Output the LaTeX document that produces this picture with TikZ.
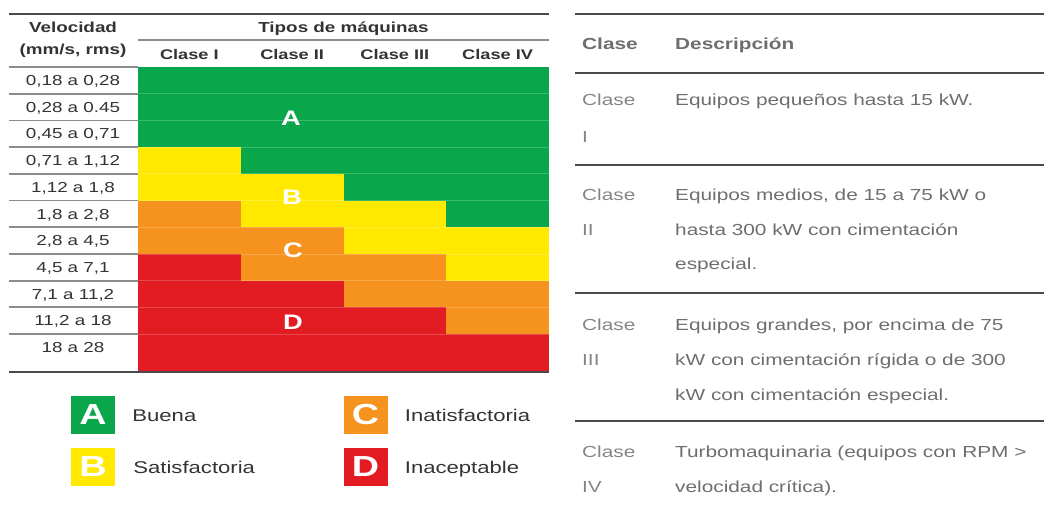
\documentclass[tikz,border=0pt]{standalone}
\usepackage{fontspec}
\setmainfont{Liberation Sans}
\newfontfamily\tabfont[FakeStretch=1.3]{Liberation Sans}
\usepackage{xcolor}
\usetikzlibrary{positioning}

\definecolor{zoneA}{HTML}{0AA64B}
\definecolor{zoneB}{HTML}{FFE900}
\definecolor{zoneC}{HTML}{F6921E}
\definecolor{zoneD}{HTML}{E31B23}
\definecolor{trait}{HTML}{4A4A4A}
\definecolor{gris}{HTML}{8C8C8C}
\definecolor{texte}{HTML}{333333}
\definecolor{gclase}{HTML}{858585}
\definecolor{gdesc}{HTML}{6E6E6E}

\begin{document}
\begin{tikzpicture}[x=1pt, y=-1pt,
    cellule/.style={inner sep=0pt, text=texte, text height=10.4pt, text depth=0pt,
      font=\tabfont\fontsize{14.5}{16}\selectfont},
    entete/.style={cellule, font=\tabfont\bfseries\fontsize{14.5}{16}\selectfont},
    lettre/.style={inner sep=0pt, text=white, text height=15pt, text depth=0pt,
      font=\tabfont\bfseries\fontsize{21}{24}\selectfont},
    caja/.style={fill=#1, minimum width=44pt, minimum height=38pt, inner sep=0pt,
      text=white, font=\tabfont\bfseries\fontsize{29}{30}\selectfont},
    leyenda/.style={inner sep=0pt, text=texte, text height=12.2pt, text depth=0pt,
      font=\tabfont\fontsize{17}{19}\selectfont},
    clase/.style={inner sep=0pt, anchor=base west, text=gclase,
      font=\tabfont\fontsize{16}{18}\selectfont},
    descr/.style={clase, text=gdesc},
    regle/.style={draw=trait, line width=2pt}]

    \useasboundingbox (0,0) rectangle (1044,509);

    % Tableau des zones
    \foreach \r/\ca/\cb/\cc/\cd in {1/A/A/A/A, 2/A/A/A/A, 3/A/A/A/A, 4/B/A/A/A, 5/B/B/A/A,
        6/C/B/B/A, 7/C/C/B/B, 8/D/C/C/B, 9/D/D/C/C, 10/D/D/D/C}
      \foreach \c/\z in {1/\ca, 2/\cb, 3/\cc, 4/\cd}
        \fill[fill=zone\z] ({138+102.75*(\c-1)}, {67+26.7*(\r-1)}) rectangle ++(102.75, 26.7);
    \fill[zoneD] (138,334) rectangle (549,372);
    \foreach \r in {1,...,10}
      \draw[white, opacity=.2, line width=.8pt] (138,{67+26.7*\r}) -- (549,{67+26.7*\r});

    % Filets
    \draw[trait, line width=2.5pt] (9,14) -- (549,14);
    \draw[gris, line width=1.5pt] (138,40) -- (549,40);
    \draw[gris, line width=1.8pt] (9,67) -- (138,67);
    \foreach \r in {1,...,10}
      \draw[gris, line width=1.8pt] (9,{67+26.7*\r}) -- (138,{67+26.7*\r});
    \draw[trait, line width=2.5pt] (9,372) -- (549,372);

    % En-tetes
    \node[entete] (vel) at (73,27.5) {Velocidad};
    \node[entete] (unid) at (73,49) {(mm/s, rms)};
    \node[entete] (tipos) at (343.5,27.5) {Tipos de máquinas};
    \foreach \t [count=\c] in {Clase I, Clase II, Clase III, Clase IV}
      \node[entete, font=\tabfont\bfseries\fontsize{14}{16}\selectfont] (c\c) at ({138+102.75*(\c-.5)},54) {\t};

    % Vitesses
    \foreach \t [count=\r] in {{0,18 a 0,28}, {0,28 a 0.45}, {0,45 a 0,71}, {0,71 a 1,12},
        {1,12 a 1,8}, {1,8 a 2,8}, {2,8 a 4,5}, {4,5 a 7,1}, {7,1 a 11,2}, {11,2 a 18}}
      \node[cellule] (v\r) at (73,{67+26.7*(\r-.5)}) {\t};
    \node[cellule] (v11) at (73,347) {18 a 28};

    % Lettres des zones
    \node[lettre] (zA) at (291,118) {A};
    \node[lettre] (zB) at (292,197) {B};
    \node[lettre] (zC) at (293,250) {C};
    \node[lettre] (zD) at (293,322) {D};

    % Legende
    \node[caja=zoneA] (lA) at (93,415) {A};
    \node[caja=zoneB] (lB) at (93,467) {B};
    \node[caja=zoneC] (lC) at (365.5,415) {C};
    \node[caja=zoneD] (lD) at (365.5,467) {D};
    \node[leyenda, right=17pt of lA] (tA) {Buena};
    \node[leyenda, right=18pt of lB] (tB) {Satisfactoria};
    \node[leyenda, right=17pt of lC] (tC) {Inatisfactoria};
    \node[leyenda, right=17pt of lD] (tD) {Inaceptable};

    % Tableau des classes
    \foreach \y in {14,73,165,293,421}
      \draw[regle] (575,\y) -- (1044,\y);
    \node[clase, text=gdesc, font=\tabfont\bfseries\fontsize{16}{18}\selectfont] (hc) at (582,49) {Clase};
    \node[descr, font=\tabfont\bfseries\fontsize{16}{18}\selectfont] (hd) at (675,49) {Descripción};
    \foreach \y/\t [count=\i] in {105/Clase, 142/I, 200/Clase, 235/II, 330/Clase, 365/III, 457/Clase, 492/IV}
      \node[clase] (k\i) at (582,\y) {\t};
    \foreach \y/\t [count=\i] in {105/{Equipos pequeños hasta 15 kW.},
        200/{Equipos medios, de 15 a 75 kW o}, 235/{hasta 300 kW con cimentación}, 269/{especial.},
        330/{Equipos grandes, por encima de 75}, 365/{kW con cimentación rígida o de 300},
        400/{kW con cimentación especial.},
        457/{Turbomaquinaria (equipos con RPM >}, 492/{velocidad crítica).}}
      \node[descr] (d\i) at (675,\y) {\t};

\end{tikzpicture}
\end{document}
